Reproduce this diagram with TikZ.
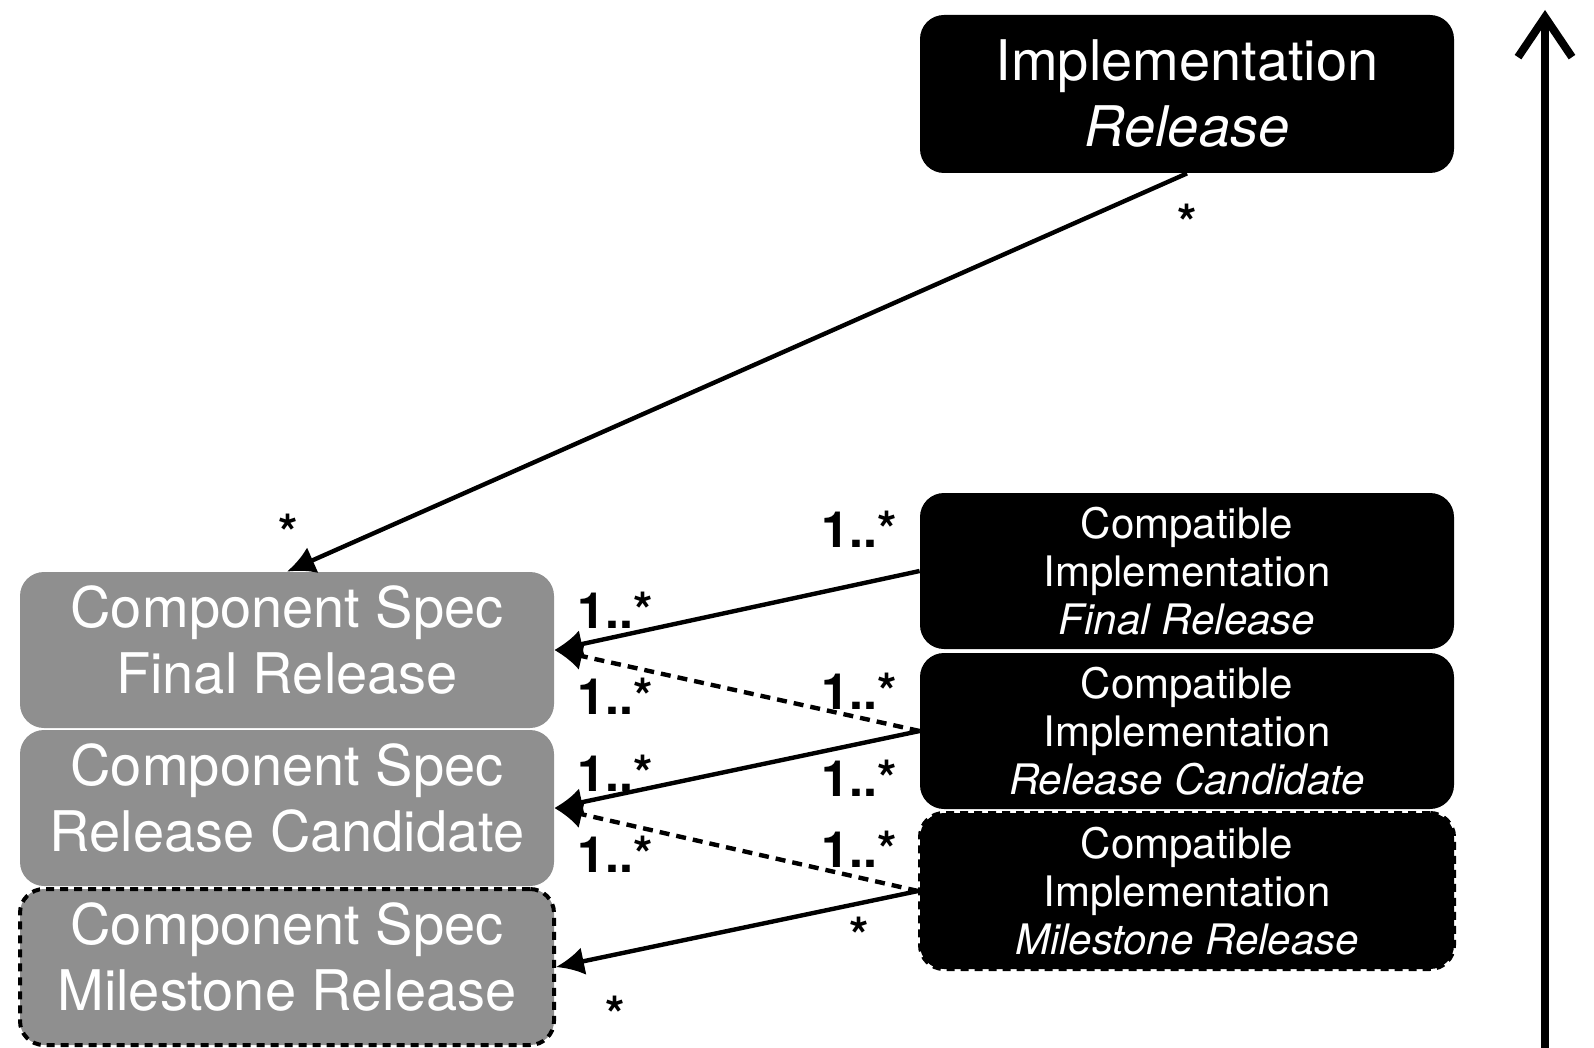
\documentclass[tikz,border=0pt]{standalone}
\usepackage{fontspec}
\setmainfont{TeX Gyre Heros}
\usetikzlibrary{arrows.meta}
\definecolor{specgray}{RGB}{143,143,143}

\begin{document}
\begin{tikzpicture}[x=0.5pt,y=-0.5pt,
  box/.style={rounded corners=12pt,minimum width=267pt,minimum height=78pt,align=center,text=white,inner sep=0pt},
  impl/.style={box,fill=black,font=\fontsize{21}{24}\selectfont},
  spec/.style={box,fill=specgray,font=\fontsize{28}{33}\selectfont,text depth=10pt},
  draft/.style={draw=black,line width=2pt,dash pattern=on 4pt off 3pt},
  mult/.style={font=\fontsize{25}{25}\selectfont\bfseries},
  link/.style={line width=2.2pt,-{Latex[length=14pt,width=14pt]}},
  weak/.style={link,dash pattern=on 5pt off 3.5pt}]
\useasboundingbox (0,0) rectangle (1594,1048);

% Implementation release
\node[impl,minimum height=79pt,font=\fontsize{28}{33}\selectfont] (rel) at (1187,94) {Implementation\\\textit{Release}};

% Compatible implementations
\node[impl] (cfin) at (1187,571) {Compatible\\Implementation\\\textit{Final Release}};
\node[impl] (crc) at (1187,731) {Compatible\\Implementation\\\textit{Release Candidate}};
\node[impl,draft] (cms) at (1187,891) {Compatible\\Implementation\\\textit{Milestone Release}};

% Component specs
\node[spec] (sfin) at (287,650) {Component Spec\\Final Release};
\node[spec] (src) at (287,808) {Component Spec\\Release Candidate};
\node[spec,draft] (sms) at (287,967) {Component Spec\\Milestone Release};

% connectors
\draw[link] (rel.south) -- (sfin.north);
\draw[link] (cfin.west) -- (sfin.east);
\draw[weak] (crc.west) -- (sfin.east);
\draw[link] (crc.west) -- (src.east);
\draw[weak] (cms.west) -- (src.east);
\draw[link] (cms.west) -- (sms.east);

% multiplicities
\node[mult] (m0s) at (1187,222) {*};
\node[mult] (m0t) at (288,532) {*};
\node[mult] (m1s) at (859,529) {1..*};
\node[mult] (m1t) at (615,610) {1..*};
\node[mult] (m2s) at (859,691) {1..*};
\node[mult] (m2t) at (615,696) {1..*};
\node[mult] (m3s) at (859,778) {1..*};
\node[mult] (m3t) at (615,773) {1..*};
\node[mult] (m4s) at (859,849) {1..*};
\node[mult] (m4t) at (615,854) {1..*};
\node[mult] (m5s) at (859,935) {*};
\node[mult] (m5t) at (615,1014) {*};

% time axis
\coordinate (axis0) at (1545,1048);
\coordinate (axis1) at (1545,10);
\draw[line width=4pt,-{Straight Barb[length=20pt,width=27pt]}] (axis0) -- (axis1);
\end{tikzpicture}
\end{document}
